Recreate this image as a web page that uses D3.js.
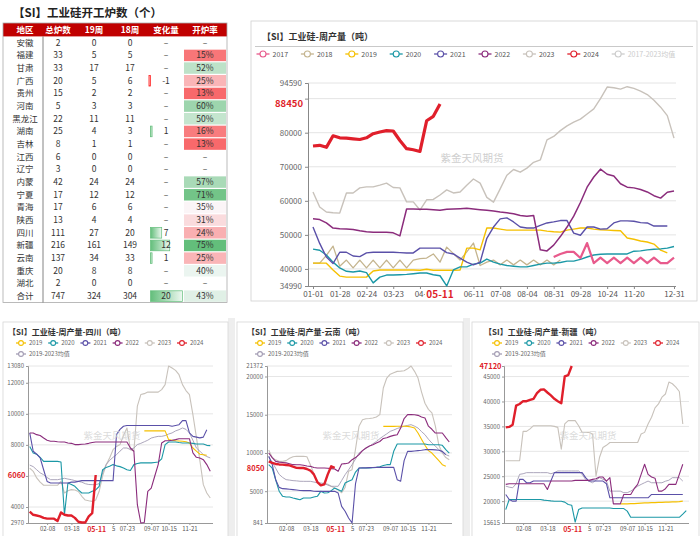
<!DOCTYPE html>
<html><head><meta charset="utf-8">
<script src="https://cdn.jsdelivr.net/npm/d3@7/dist/d3.min.js"></script>
<style>
html,body{margin:0;padding:0;background:#fff;}
svg{display:block;font-family:"Noto Sans CJK SC","Noto Sans",sans-serif;}
</style></head><body>
<svg id="chart" width="700" height="536"></svg>
<script>
// ================= DATA: furnace table =================
const tableHeaders = ["地区","总炉数","19周","18周","变化量","开炉率"];
const regions = ["安徽","福建","甘肃","广西","贵州","河南","黑龙江","湖南","吉林","江西","辽宁","内蒙","宁夏","青海","陕西","四川","新疆","云南","重庆","湖北","合计"];
const totalFurnaces = [2,33,33,20,15,5,22,25,8,6,3,42,17,17,13,111,216,137,20,2,747];
const week19 = [0,5,17,5,2,3,11,4,1,0,0,24,12,6,4,27,161,34,8,0,324];
const week18 = [0,5,17,6,2,3,11,3,1,0,0,24,12,6,4,20,149,33,8,0,304];
const changes = [0,0,0,-1,0,0,0,1,0,0,0,0,0,0,0,7,12,1,0,0,20];
const openRates = [null,15,52,25,13,60,50,16,13,null,null,57,71,35,31,24,75,25,40,null,43];

// ================= DATA: national weekly output (top chart) =================
const topTickIdx = [0,4,8,12,16,24,28,32,36,40,44,48,54];
const topTickLabels = ["01-01","01-28","02-24","03-23","04-","06-11","07-08","08-04","08-31","09-28","10-24","11-20","12-31"];
const topCurrentIdx = 19, topCurrentLabel = "05-11", topCurrentValue = 88450;
const topYMin = 34990, topYMax = 94590;
const topYTicks = [40000,50000,60000,70000,80000,90000];
const legendTopNames = ["2017","2018","2019","2020","2021","2022","2023","2024","2017-2023均值"];

const y2017Start = 36;
const y2017 = [43500,44400,45000,45000,43200,47600,41700,43300,41700,43300,41700,43300,41700,43300,41700,43300,41700,41700,43300];
const y2018 = [41700,41700,44000,46700,40800,42600,40300,42600,40300,42600,40300,42600,40300,42600,40300,42600,43000,43200,44400,42000,46400,44500,42600,45000,47600,41000,42000,42600,41200,42600,41200,42600,41200,42600,41200,42600,41200,42600];
const y2019 = [41700,41700,41700,39700,37900,37600,37600,37600,37600,39400,39700,39700,39700,39700,39700,39700,39600,39900,39600,39600,39600,39600,39700,46100,46100,45600,52000,52000,51700,51400,51400,51400,51400,51400,51400,51100,50900,50800,51400,51700,52000,52000,51700,51500,51400,51300,51200,49100,48700,48200,47900,47300,45500,44700];
const y2020 = [45800,45500,44100,42000,40300,39300,39100,39400,38900,35900,37600,38200,38200,38300,38400,38600,38800,38800,38300,38000,35000,39700,40600,40600,41400,41700,42900,42000,41400,41000,40800,40600,40600,41000,41400,41700,41700,41900,42300,42300,42800,43500,44100,44300,44400,44400,44400,44400,45200,45300,45600,45800,45900,46100,46600];
const y2021 = [52300,47500,43500,41600,44900,44900,43800,43600,44700,44900,44900,44900,44900,44800,44700,44700,46100,46100,46100,46100,44800,44400,43200,42000,41200,42000,49000,52300,54700,55000,53800,52300,52000,52000,52800,53500,53800,54200,54200,50500,49900,52300,52300,51700,51800,53500,54100,54100,54000,53600,53500,52600,52600,52600];
const y2022 = [54700,54500,53500,52000,51800,51700,51600,51200,50900,50800,50800,50800,50600,49700,57600,57600,57500,57500,57400,57200,57500,57600,57700,57800,57600,57400,57200,57000,56700,56500,56200,55700,55500,55700,45600,45300,47000,49500,52300,55500,59500,64000,67000,69300,67800,67300,65000,64000,63800,63300,62600,61500,60800,62500,62900];
const y2023 = [62600,58200,56700,56500,56400,62300,62300,63800,64100,64100,64600,65200,63900,63800,59700,59700,57300,60300,60400,61700,63200,62300,62600,64600,66400,65200,61000,59600,63500,67500,69200,68400,69600,71300,72000,77900,78900,80600,82000,83100,84000,85500,87000,90000,93400,93200,92800,93500,93000,92200,91200,89500,87500,85000,78400];
const y2024 = [76100,76300,75700,79100,78500,78400,78200,78000,78500,79700,80200,80600,80500,77700,75300,75000,74500,83500,84800,88450];

// ================= DATA: provincial weekly output (bottom charts) =================
const provTickIdx = [5,12,24,28,35,40,46];
const provTickLabels = ["02-08","03-18","5","07-23","09-07","10-15","11-21"];
const provCurrentIdx = 19, provCurrentLabel = "05-11";
const legendProvNames = ["2019","2020","2021","2022","2023","2024","2019-2023均值"];
const prov2019Start = 33;

// 四川
const scTicks = [4000,6000,8000,10000,12000]; const scMin = 2970, scMax = 13080, scCurrent = 6060;
const sc2019 = [8900,8900,8900,8900,8900,8900,8900,8340,8300,8270,8250,8230,8200,8120,7800,7600,7400,7370,7330];
const sc2020 = [7900,7480,7400,7200,6940,6940,6940,6940,6940,6900,3500,5550,5450,5330,5100,4900,4900,4900,5010,5100,5330,6400,6550,6620,6730,6650,6600,6510,6400,6350,6730,6800,6840,6840,6840,6840,6870,6900,7100,8020,8190,8190,8190,8150,8120,8120,8120,8100,8060,8060,8060,7970,7950];
const sc2021 = [8770,7590,7400,7160,6400,5650,5550,5550,5550,5550,5550,5550,5600,5600,5650,5700,5700,5700,5700,5700,5700,5700,5700,5700,5700,8660,9000,9200,9250,9250,9250,9250,9250,9250,9250,9250,9250,9250,9250,9250,9250,9200,9250,9300,9560,9560,8770,8550,8500,8450,8500,8980];
const sc2022 = [8770,8770,8660,8600,8440,8300,8230,8230,8200,8190,8190,8120,8100,8020,8020,8040,8060,8100,8150,8190,8190,8190,8190,8190,8190,8190,8190,8190,8190,7800,7590,4150,2970,3000,5010,5220,5980,6730,8120,8270,8270,8300,8340,8400,8400,8400,8400,7480,7200,7160,7050,6730,6300];
const sc2023 = [6500,6300,5870,5600,5400,5400,5400,5400,5400,5650,4900,5050,5120,5100,5000,4690,4450,4400,4360,4450,5010,6000,6700,7160,7690,7900,8020,8600,9090,7690,7600,10500,11240,11300,11400,11400,11400,11400,11560,11880,13080,12950,12800,12520,11880,11500,11240,9950,8500,7000,5440,4900,4580];
const sc2024 = [3700,3500,3450,3400,3300,3250,3250,3250,3100,3650,3500,3450,3450,3300,3050,3000,3000,3400,3600,6060];
const scAvg = [6700,6600,6400,6200,6080,5900,5760,5760,5760,5800,5850,5800,5760,5700,5650,5600,5500,5450,5440,5440,5500,6200,6730,7000,7200,7370,7600,7800,7800,7700,7800,8020,8100,8200,8300,8440,8500,8550,8550,8600,8700,8770,8900,8980,9090,9000,8770,8300,7800,7600,7370,7250,7160];

// 云南
const ynTicks = [5000,10000,15000,20000]; const ynMin = 841, ynMax = 21372, ynCurrent = 8050;
const yn2019 = [13480,13480,13480,13480,13500,13500,13500,13480,13400,13260,12610,11800,11000,10300,9990,9500,9000,8470,8250];
const yn2020 = [8470,8030,6500,5000,4330,4240,4240,4110,4000,3890,4110,4110,4110,4250,4330,4980,4760,4800,5070,5420,5200,4980,6070,6300,6510,7500,8030,8030,8030,8050,8080,8120,8200,8350,8470,8470,10210,11170,11170,11170,11170,11170,11170,11170,11170,11170,11080,11080,11080,11080,11000,10430,9990];
const yn2021 = [9560,8500,6500,5500,5330,5300,5250,5200,5150,5100,5070,5070,5070,5000,4980,4980,4980,4980,4980,4980,4760,3020,2370,1500,841,6000,8030,8050,8050,8080,8100,8120,8120,8120,8120,8120,8120,6500,6300,9000,10210,10210,10250,10300,10350,10430,10430,10430,10400,10350,10210,9780];
const yn2022 = [9990,9400,8900,8800,8750,8700,8600,8470,8450,8450,8400,8300,8250,8100,8030,8030,8030,8000,7950,7900,7600,8560,8600,8690,9120,9400,9780,10300,10650,10900,11080,11300,11500,11900,12000,12170,12300,12390,13260,14500,15010,15010,15000,14920,14700,14570,13500,13100,12610,12610,12610,12000,11430];
const yn2023 = [10400,9400,9100,8900,8900,9000,9300,9500,9560,9560,9560,9500,8470,7300,6200,5850,6070,5900,5640,5400,5200,4800,5500,7600,7820,10500,13500,14350,14480,14500,14570,14700,15010,18500,19800,20300,20500,20670,20700,20760,21000,21372,20670,19800,18000,16500,15700,15230,13500,11000,9990,9400,9120];
const yn2024 = [8900,8700,8560,8500,8470,8420,8380,8200,8050,8030,8030,7900,7700,7200,6200,5770,5900,7200,8250,8050];
const ynAvg = [9500,8800,8000,7200,6800,6510,6450,6380,6350,6300,6290,6290,6290,6200,6100,6070,6000,5800,5640,5640,5640,6400,7160,7800,8470,9200,9990,10300,10600,10870,11200,11500,11870,12200,12500,12830,13000,13200,13350,13500,13600,13700,13500,13260,12800,12390,11800,11300,10900,10430,10100,9780,9600];

// 新疆
const xjTicks = [20000,25000,30000,35000,40000,45000]; const xjMin = 15615, xjMax = 47120, xjCurrent = 47120;
const xj2019 = [19450,19450,19450,19500,19500,19550,19600,19650,19650,19700,19700,19750,19750,19800,19800,19860,19860,19900,20000];
const xj2020 = [18310,20330,20330,20330,20330,20330,20330,20330,20330,20330,20330,20200,20130,20050,19990,19990,19990,19800,19320,19180,15800,18310,18640,18640,18640,18640,18640,18640,18640,18640,18640,18510,18510,18510,18510,18000,16760,16760,16760,16760,16760,16760,16760,16760,16760,16760,16760,16760,16760,16760,16760,17400,18100];
const xj2021 = [21340,20330,20000,20000,24370,24370,23690,23690,24030,24030,24030,24030,24030,24030,25720,25720,25720,25720,25720,25720,25720,25720,25720,24710,24030,24030,24030,24030,24030,23500,20670,20670,20670,20670,20670,20670,20670,20670,20670,20670,20670,20670,21340,21340,21340,21340,21340,21340,21340,21340,21340,21340];
const xj2022 = [23360,23490,23490,23490,23490,23490,23490,23490,23490,23490,23490,23490,22350,24030,24030,24030,24030,24030,24030,24030,24170,24170,24170,24170,24170,24370,24500,24840,24840,24030,24710,19450,19450,19450,21340,21340,21340,22500,23360,25380,27400,25380,24840,24600,22010,22010,22500,23360,23360,23360,25380,27400];
const xj2023 = [28100,28100,28100,28100,28100,34000,34000,34500,35140,35140,35140,35140,35140,35140,35000,34800,30430,35500,36150,36150,36150,35140,33800,33800,33800,33460,25040,28750,30770,31200,31770,31770,31770,31770,31770,31770,31770,31770,31770,33460,33800,35480,36830,38710,39520,40870,41500,43900,43560,42890,42000,35480];
const xj2024 = [34800,34900,35350,39180,39500,40060,40060,40300,40530,41670,42350,42420,41800,41210,40530,40060,39650,45040,45300,47120];
const xjAvg = [23020,22800,22690,23500,25380,25500,25720,25720,25720,25720,25720,25720,25720,25500,25720,26050,26050,26050,26050,26050,26050,26050,25380,24370,24000,23690,24200,24710,24400,24030,22010,22010,22010,22010,21700,21700,22010,22500,23000,23360,23700,24030,23690,23690,23690,23690,24000,24200,24710,24710,24710,24030];

// ================= STYLE =================
const C = {"2017":"#e85a8c","2018":"#c4b48e","2019":"#f5c000","2020":"#1b98a6","2021":"#5a50a8","2022":"#8b2c7c","2023":"#c8c2bb","2024":"#e01f2b","avgTop":"#cccccc","avg":"#a39cb3"};
const RED = "#e01f2b";
const svg = d3.select("#chart");

// ================= TABLE =================
(function drawTable(){
  const colX = [25,58,94,130,166,205];
  const tTop = 23, headH = 13.4, rowH = 12.67, tLeft = 3, tRight = 227;
  const rowTop = i => tTop + headH + i*rowH;
  svg.append("text").attr("x",13).attr("y",17).attr("font-size",11.5).attr("font-weight","bold").attr("fill","#222").text("【SI】工业硅开工炉数（个）");
  svg.append("rect").attr("x",tLeft).attr("y",tTop).attr("width",tRight-tLeft).attr("height",headH).attr("fill","#c00000");
  tableHeaders.forEach((h,j)=>svg.append("text").attr("x",colX[j]).attr("y",tTop+headH/2+3.3).attr("text-anchor","middle")
     .attr("font-size",8.5).attr("font-weight","bold").attr("fill","#fff").text(h));
  const rateColor = d3.scaleLinear().domain([13,36,75]).range(["#f8696b","#fbfbfd","#63be7b"]);
  const defs = svg.append("defs");
  const gp = defs.append("linearGradient").attr("id","gpos");
  gp.append("stop").attr("offset","0%").attr("stop-color","#63be7b");
  gp.append("stop").attr("offset","100%").attr("stop-color","#eef8f1");
  const gn = defs.append("linearGradient").attr("id","gneg").attr("x1","100%").attr("x2","0%");
  gn.append("stop").attr("offset","0%").attr("stop-color","#ff3030");
  gn.append("stop").attr("offset","100%").attr("stop-color","#ffdede");
  const barX = d3.scaleLinear().domain([0,20]).range([150.5,182.5]);
  regions.forEach((r,i)=>{
    const y0 = rowTop(i), cy = y0 + rowH/2 + 3;
    if(openRates[i]!==null){
      svg.append("rect").attr("x",184).attr("y",y0+0.6).attr("width",42).attr("height",rowH-1.2).attr("fill",rateColor(openRates[i]));
    }
    const ch = changes[i];
    if(ch>0){
      svg.append("rect").attr("x",barX(0)).attr("y",y0+1).attr("width",barX(ch)-barX(0)).attr("height",rowH-2)
        .attr("fill","url(#gpos)").attr("stroke","#63be7b").attr("stroke-width",0.7);
    } else if(ch<0){
      svg.append("rect").attr("x",barX(ch)).attr("y",y0+1).attr("width",barX(0)-barX(ch)).attr("height",rowH-2)
        .attr("fill","url(#gneg)").attr("stroke","#ff3030").attr("stroke-width",0.7);
    }
    const cells = [r, totalFurnaces[i], week19[i], week18[i], ch===0?"–":ch, openRates[i]===null?"–":openRates[i]+"%"];
    cells.forEach((v,j)=>svg.append("text").attr("x",colX[j]).attr("y",cy).attr("text-anchor","middle")
       .attr("font-size",8.5).attr("fill","#333").text(v));
  });
  const tBottom = rowTop(regions.length);
  svg.append("rect").attr("x",tLeft).attr("y",tTop).attr("width",tRight-tLeft).attr("height",tBottom-tTop).attr("fill","none").attr("stroke","#aaa").attr("stroke-width",0.8);
  svg.append("line").attr("x1",43).attr("x2",43).attr("y1",tTop+headH).attr("y2",tBottom).attr("stroke","#666").attr("stroke-width",0.8);
})();

// ================= helper: legend marker =================
function legendItem(g, cx, cy, color, label, textColor, size, halfLen, r){
  g.append("line").attr("x1",cx-halfLen).attr("x2",cx+halfLen).attr("y1",cy).attr("y2",cy).attr("stroke",color).attr("stroke-width",1.3);
  g.append("circle").attr("cx",cx).attr("cy",cy).attr("r",r).attr("fill","#fff").attr("stroke",color).attr("stroke-width",1.1);
  g.append("text").attr("x",cx+halfLen+3).attr("y",cy+size*0.36).attr("font-size",size).attr("fill",textColor).text(label);
}

// ================= TOP CHART =================
(function drawTop(){
  const g = svg.append("g");
  g.append("rect").attr("x",251).attr("y",21).attr("width",446).attr("height",280).attr("fill","none").attr("stroke","#d0d0d0").attr("stroke-width",0.8);
  g.append("text").attr("x",262).attr("y",40).attr("font-size",9).attr("font-weight","bold").attr("fill","#333").text("【SI】工业硅-周产量（吨）");
  g.append("line").attr("x1",255).attr("x2",693).attr("y1",46.5).attr("y2",46.5).attr("stroke","#bbb").attr("stroke-width",0.8);
  const legColors = [C["2017"],C["2018"],C["2019"],C["2020"],C["2021"],C["2022"],C["2023"],C["2024"],C.avgTop];
  legendTopNames.forEach((n,k)=>{
    const last = k===legendTopNames.length-1;
    legendItem(g, 263 + k*44.4, 54, legColors[k], n, last?"#cccccc":"#555", 7, 6.5, 3);
  });
  const xT = d3.scaleLinear().domain([0,54]).range([313,674]);
  const yT = d3.scaleLinear().domain([topYMin, topYMax]).range([286,83]);
  // grid
  g.selectAll(".gt").data(topYTicks.concat([topYMax])).enter().append("line")
    .attr("x1",308).attr("x2",676).attr("y1",d=>yT(d)).attr("y2",d=>yT(d)).attr("stroke","#e4e4e4").attr("stroke-width",1);
  // y axis
  const ya = g.append("g").attr("transform","translate(308,0)")
    .call(d3.axisLeft(yT).tickValues([topYMin].concat(topYTicks,[topYMax])).tickSize(3).tickPadding(3)
      .tickFormat(d=> Math.abs(yT(d)-yT(topCurrentValue))<9 ? "" : d));
  ya.select(".domain").attr("stroke","#888");
  ya.selectAll(".tick line").attr("stroke","#888");
  ya.selectAll("text").attr("font-size",8).attr("fill","#666").attr("font-family","Noto Sans CJK SC");
  g.append("text").attr("x",303).attr("y",yT(topCurrentValue)+3.5).attr("text-anchor","end").attr("font-size",9.5)
    .attr("font-weight","bold").attr("fill",RED).text(topCurrentValue);
  // x axis
  const xa = g.append("g").attr("transform","translate(0,286)")
    .call(d3.axisBottom(xT).tickValues(topTickIdx).tickSize(3).tickPadding(2).tickFormat((d,i)=>topTickLabels[i]));
  xa.select(".domain").attr("stroke","#888").attr("d","M308,0.5H676");
  xa.selectAll(".tick line").attr("stroke","#888");
  xa.selectAll("text").attr("font-size",8).attr("fill","#555").attr("font-family","Noto Sans CJK SC");
  // series
  const series = [
    {s:0,v:y2023,c:C["2023"],w:1.4},
    {s:0,v:y2018,c:C["2018"],w:1.3},
    {s:0,v:y2019,c:C["2019"],w:1.4},
    {s:0,v:y2020,c:C["2020"],w:1.4},
    {s:0,v:y2021,c:C["2021"],w:1.4},
    {s:0,v:y2022,c:C["2022"],w:1.5},
    {s:y2017Start,v:y2017,c:C["2017"],w:2.2},
    {s:0,v:y2024,c:C["2024"],w:3.2}
  ];
  series.forEach(se=>{
    const line = d3.line().x((d,i)=>xT(se.s+i)).y(d=>yT(d));
    g.append("path").attr("d",line(se.v)).attr("fill","none").attr("stroke",se.c).attr("stroke-width",se.w).attr("stroke-linejoin","round");
  });
  // watermark
  g.append("text").attr("x",472).attr("y",162).attr("text-anchor","middle").attr("font-size",10.5).attr("fill","#cfcfcf").text("紫金天风期货");
  // current label
  const cx = xT(topCurrentIdx);
  g.append("rect").attr("x",cx-15).attr("y",288).attr("width",30).attr("height",12).attr("fill","#fff");
  g.append("text").attr("x",cx).attr("y",298).attr("text-anchor","middle").attr("font-size",10).attr("font-weight","bold").attr("fill",RED).text(topCurrentLabel);
})();

// ================= BOTTOM CHARTS =================
const provPanels = [
  {title:"【SI】工业硅-周产量-四川（吨）", ox:0, frame:[3,322,225], band:[228,235], min:scMin, max:scMax, ticks:scTicks, cur:scCurrent,
   data:{"2019":sc2019,"2020":sc2020,"2021":sc2021,"2022":sc2022,"2023":sc2023,"2024":sc2024,"avg":scAvg}},
  {title:"【SI】工业硅-周产量-云南（吨）", ox:239, frame:[237,322,226], band:[463,470], min:ynMin, max:ynMax, ticks:ynTicks, cur:ynCurrent,
   data:{"2019":yn2019,"2020":yn2020,"2021":yn2021,"2022":yn2022,"2023":yn2023,"2024":yn2024,"avg":ynAvg}},
  {title:"【SI】工业硅-周产量-新疆（吨）", ox:476, frame:[472,322,227], band:null, min:xjMin, max:xjMax, ticks:xjTicks, cur:xjCurrent,
   data:{"2019":xj2019,"2020":xj2020,"2021":xj2021,"2022":xj2022,"2023":xj2023,"2024":xj2024,"avg":xjAvg}}
];

provPanels.forEach(p=>{
  const g = svg.append("g");
  if(p.band) g.append("rect").attr("x",p.band[0]).attr("y",318).attr("width",p.band[1]-p.band[0]).attr("height",218).attr("fill","#eeeeee");
  g.append("rect").attr("x",p.frame[0]).attr("y",p.frame[1]).attr("width",p.frame[2]).attr("height",220).attr("fill","none").attr("stroke","#d6d6d6").attr("stroke-width",0.8);
  const o = p.ox;
  g.append("text").attr("x",o+8).attr("y",335).attr("font-size",8).attr("font-weight","bold").attr("fill","#333").text(p.title);
  const legColors = [C["2019"],C["2020"],C["2021"],C["2022"],C["2023"],C["2024"],C.avg];
  legendProvNames.forEach((n,k)=>{
    const row2 = k===6;
    legendItem(g, o + (row2?21:21 + k*32.2), row2?354:343, legColors[k], n, "#666", 6, 5, 2.4);
  });
  const xB = d3.scaleLinear().domain([-0.5,52.5]).range([o+28,o+212]);
  const yB = d3.scaleLinear().domain([p.min,p.max]).range([523,366]);
  const gridVals = p.ticks.concat([p.max]);
  g.selectAll(null).data(gridVals).enter().append("line")
    .attr("x1",o+28).attr("x2",o+213).attr("y1",d=>yB(d)).attr("y2",d=>yB(d)).attr("stroke","#e6e6e6").attr("stroke-width",1);
  const yVals = [p.min].concat(p.ticks, p.max===p.cur?[]:[p.max]);
  const ya = g.append("g").attr("transform",`translate(${o+28},0)`)
    .call(d3.axisLeft(yB).tickValues(yVals).tickSize(2).tickPadding(2)
      .tickFormat(d=> Math.abs(yB(d)-yB(p.cur))<7 ? "" : d));
  ya.select(".domain").attr("stroke","#999");
  ya.selectAll(".tick line").attr("stroke","#999");
  ya.selectAll("text").attr("font-size",6).attr("fill","#666").attr("font-family","Noto Sans CJK SC");
  g.append("text").attr("x",o+25.5).attr("y",yB(p.cur)+2.8).attr("text-anchor","end").attr("font-size",7.5).attr("font-weight","bold").attr("fill",RED).text(p.cur);
  const xa = g.append("g").attr("transform","translate(0,523)")
    .call(d3.axisBottom(xB).tickValues(provTickIdx).tickSize(2).tickPadding(2).tickFormat((d,i)=>provTickLabels[i]));
  xa.select(".domain").attr("stroke","#999").attr("d",`M${o+28},0.5H${o+213}`);
  xa.selectAll(".tick line").attr("stroke","#999");
  xa.selectAll("text").attr("font-size",6).attr("fill","#555").attr("font-family","Noto Sans CJK SC");
  const order = [["2023",0,1.1],["avg",0,0.9],["2019",prov2019Start,1.1],["2020",0,1.1],["2021",0,1.1],["2022",0,1.1],["2024",0,2.4]];
  order.forEach(([k,s,w])=>{
    const line = d3.line().x((d,i)=>xB(s+i)).y(d=>yB(d));
    g.append("path").attr("d",line(p.data[k])).attr("fill","none").attr("stroke",k==="avg"?C.avg:C[k]).attr("stroke-width",w).attr("stroke-linejoin","round");
  });
  g.append("text").attr("x",o+112).attr("y",439).attr("text-anchor","middle").attr("font-size",9.5).attr("fill","#d4d4d4").attr("fill-opacity",0.85).text("紫金天风期货");
  const cx = xB(provCurrentIdx);
  g.append("rect").attr("x",cx-10).attr("y",524.5).attr("width",21).attr("height",9).attr("fill","#fff");
  g.append("text").attr("x",cx+1).attr("y",532).attr("text-anchor","middle").attr("font-size",7).attr("font-weight","bold").attr("fill",RED).text(provCurrentLabel);
});
</script></body></html>
